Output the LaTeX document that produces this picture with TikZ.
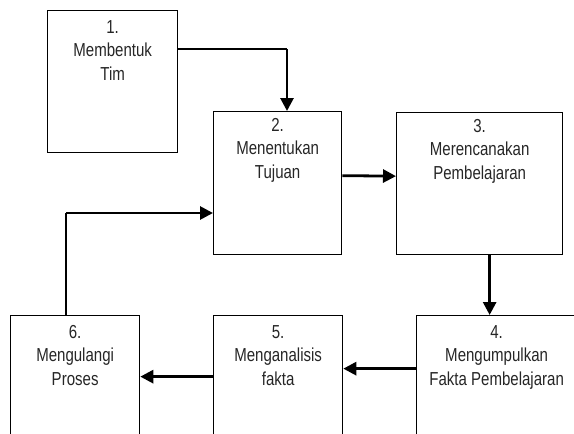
\documentclass[tikz,border=0pt]{standalone}
\usepackage{fontspec}
\setmainfont{Liberation Sans}[FakeStretch=0.8]
\usepackage{tikz}
\usetikzlibrary{arrows.meta}

\begin{document}
\begin{tikzpicture}[x=1pt, y=-1pt]
    \tikzstyle{stepbox} = [rectangle, draw, line width=1.3pt, inner sep=0pt, anchor=north west]
    \tikzstyle{steptext} = [anchor=north, align=center, inner sep=0pt, yshift=-10pt, text=black!85,
        font=\fontsize{18.8}{23.5}\selectfont]
    \tikzstyle{flow} = [line width=2.8pt, -{Triangle[width=13pt, length=13pt]}]
    \tikzstyle{link} = [line width=1.3pt]

    \useasboundingbox (0,0) rectangle (574,434);
    \clip (0,0) rectangle (574,434);

    % Boxes
    \node[stepbox, minimum width=130pt, minimum height=142pt] (b1) at (47,10) {};
    \node[stepbox, minimum width=128pt, minimum height=143pt] (b2) at (213,111) {};
    \node[stepbox, minimum width=166pt, minimum height=142pt] (b3) at (396,112) {};
    \node[stepbox, minimum width=160pt, minimum height=145pt] (b4) at (416,315) {};
    \node[stepbox, minimum width=129pt, minimum height=145pt] (b5) at (213,315) {};
    \node[stepbox, minimum width=129pt, minimum height=145pt] (b6) at (10,315) {};

    % Texts
    \node[steptext] (t1) at (b1.north) {1.\\Membentuk\\Tim};
    \node[steptext, yshift=3pt] (t2) at (b2.north) {2.\\Menentukan\\Tujuan};
    \node[steptext, yshift=3pt] (t3) at (b3.north) {3.\\Merencanakan\\Pembelajaran};
    \node[steptext] (t4) at (b4.north) {4.\\Mengumpulkan\\Fakta Pembelajaran};
    \node[steptext] (t5) at (b5.north) {5.\\Menganalisis\\fakta};
    \node[steptext] (t6) at (b6.north) {6.\\Mengulangi\\Proses};

    % Connectors
    \coordinate (c1) at (287,49);
    \draw[link] (c1 -| b1.east) -- (c1);
    \draw[flow] (c1) -- (c1 |- b2.north);

    \draw[flow] ([yshift=7.5pt]b2.east) -- ([yshift=7.5pt]b3.west);

    \coordinate (c3) at ([xshift=10pt]b3.south);
    \draw[flow] (c3) -- (c3 |- b4.north);

    \draw[flow] ([yshift=19.5pt]b4.west) -- ([yshift=19.5pt]b5.east);
    \draw[flow] ([yshift=11.5pt]b5.west) -- ([yshift=11.5pt]b6.east);

    \coordinate (c6) at (66,213);
    \draw[link] (c6 |- b6.north) -- (c6);
    \draw[flow] (c6) -- (c6 -| b2.west);
\end{tikzpicture}
\end{document}
